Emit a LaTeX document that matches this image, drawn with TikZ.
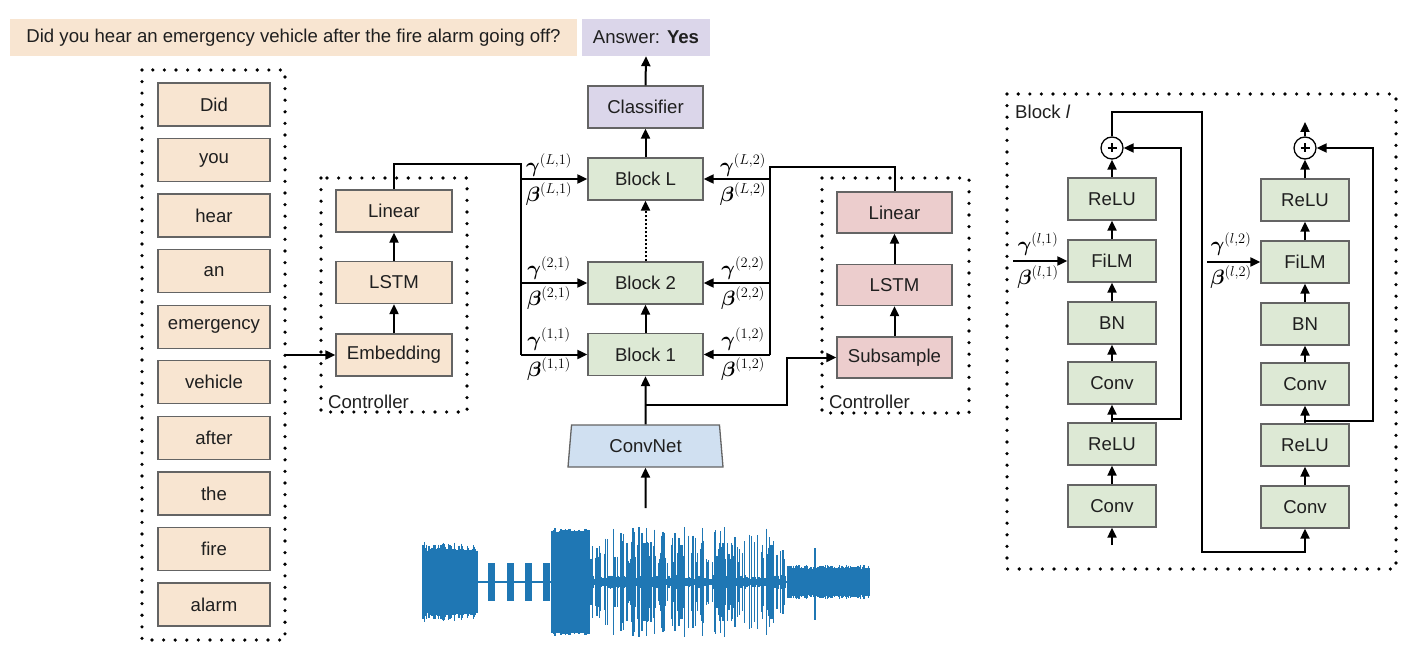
\documentclass[tikz,border=0pt]{standalone}
\usepackage{bm}
\usepackage{fontspec}
\setmainfont{Liberation Sans}
\usetikzlibrary{arrows.meta,shapes.geometric,calc}
\definecolor{tanc}{RGB}{248,229,209}
\definecolor{pinkc}{RGB}{236,205,205}
\definecolor{lavc}{RGB}{219,214,234}
\definecolor{grnc}{RGB}{221,233,213}
\definecolor{bluc}{RGB}{208,224,241}
\definecolor{wavc}{RGB}{31,119,180}
\definecolor{bordc}{RGB}{100,100,100}
\tikzset{
  txt/.style={font=\fontsize{18.6}{21}\selectfont, text=black!88},
  box/.style={txt, draw=bordc, line width=1.3pt, minimum width=116pt, minimum height=42pt, inner sep=0pt},
  wordbox/.style={box, fill=tanc, minimum width=112pt, minimum height=43pt},
  ctrlbox/.style={box, fill=tanc},
  ctrlrbox/.style={box, fill=pinkc, minimum width=115pt, minimum height=41pt},
  blkbox/.style={box, fill=grnc, minimum width=115pt},
  rbox/.style={box, fill=grnc, minimum width=88pt},
  arr/.style={line width=2pt, -{Triangle[length=10pt,width=9pt]}},
  ln/.style={line width=2pt},
  dotframe/.style={line width=3.6pt, dash pattern=on 0pt off 11.6pt, line cap=round},
  lab/.style={font=\fontsize{21.5}{23}\selectfont, inner sep=0pt},
  wave/.style={draw=wavc, line width=1.3pt},
}
\begin{document}
\begin{tikzpicture}[x=1pt,y=-1pt]
\useasboundingbox (0,0) rectangle (1412,660);

% question and answer
\node[txt, fill=tanc, minimum width=567pt, minimum height=37pt, inner sep=0pt, font=\fontsize{18.6}{20}\selectfont] (q) at (293.5,37.5) {Did you hear an emergency vehicle after the fire alarm going off?};
\node[txt, fill=lavc, minimum width=128pt, minimum height=37pt, inner sep=0pt, font=\fontsize{18.6}{20}\selectfont] (ans) at (646,37.5) {Answer: \textbf{Yes}};

% word column
\draw[dotframe] (142,70) rectangle (285,640);
\foreach \w [count=\i from 0] in {Did,you,hear,an,emergency,vehicle,after,the,fire,alarm} {
  \node[wordbox] (w\i) at (214,104.5+55.56*\i) {\w};
}
\coordinate (wout) at (285,355);

% left controller
\draw[dotframe] (321,178) rectangle (467,412);
\node[ctrlbox] (lin1) at (394,211) {Linear};
\node[ctrlbox] (lstm1) at (394,282.5) {LSTM};
\node[ctrlbox] (emb) at (394,355) {Embedding};
\node[txt, anchor=west, inner sep=0pt] (ctl1) at (328,402) {Controller};
\draw[arr] (wout) -- (emb.west);
\draw[arr] (emb.north) -- (lstm1.south);
\draw[arr] (lstm1.north) -- (lin1.south);

% right controller
\draw[dotframe] (822,178) rectangle (969,413);
\node[ctrlrbox] (lin2) at (894.5,212.5) {Linear};
\node[ctrlrbox] (lstm2) at (894.5,285) {LSTM};
\node[ctrlrbox] (sub) at (894.5,357.5) {Subsample};
\node[txt, anchor=west, inner sep=0pt] (ctl2) at (829,402) {Controller};
\draw[arr] (sub.north) -- (lstm2.south);
\draw[arr] (lstm2.north) -- (lin2.south);

% central stack
\node[box, fill=lavc, minimum width=115pt] (cls) at (645.5,107) {Classifier};
\node[blkbox] (bL) at (645.5,179) {Block L};
\node[blkbox] (b2) at (645.5,283) {Block 2};
\node[blkbox] (b1) at (645.5,354.5) {Block 1};
\node[txt, trapezium, draw=bordc, fill=bluc, line width=1.3pt, trapezium angle=75, trapezium stretches body, minimum width=155pt, minimum height=42pt, inner sep=0pt] (cn) at (645.5,446) {ConvNet};
\draw[arr] (cls.north) -- (ans.south);
\draw[arr] (bL.north) -- (cls.south);
\draw[line width=2pt, dotted, -{Triangle[length=10pt,width=9pt]}] (b2.north) -- (bL.south);
\draw[arr] (b1.north) -- (b2.south);
\draw[arr] (cn.north) -- (b1.south);
\coordinate (br) at (645.5,405);
\draw[arr] (br) -- (787,405) -- (787,357.5) -- (sub.west);
\coordinate (wtop) at (645.5,508);
\draw[arr] (wtop) -- (cn.south);

% left bus
\coordinate (lbus) at (521,164);
\draw[ln] (lin1.north) -- (394,164) -- (lbus) -- (lbus |- b1.west);
\draw[arr] (lbus |- bL.west) -- (bL.west);
\draw[arr] (lbus |- b2.west) -- (b2.west);
\draw[arr] (lbus |- b1.west) -- (b1.west);
% right bus
\coordinate (rbus) at (770,167);
\draw[ln] (lin2.north) -- (894.5,167) -- (rbus) -- (rbus |- b1.east);
\draw[arr] (rbus |- bL.east) -- (bL.east);
\draw[arr] (rbus |- b2.east) -- (b2.east);
\draw[arr] (rbus |- b1.east) -- (b1.east);

% gamma / beta labels
\node[lab] (gL1) at (549,165) {$\bm{\gamma}^{(L,1)}$};
\node[lab] (bL1) at (549,194) {$\bm{\beta}^{(L,1)}$};
\node[lab] (g21) at (549,268) {$\bm{\gamma}^{(2,1)}$};
\node[lab] (b21) at (549,298) {$\bm{\beta}^{(2,1)}$};
\node[lab] (g11) at (549,339) {$\bm{\gamma}^{(1,1)}$};
\node[lab] (b11) at (549,369) {$\bm{\beta}^{(1,1)}$};
\node[lab] (gL2) at (743,165) {$\bm{\gamma}^{(L,2)}$};
\node[lab] (bL2) at (743,194) {$\bm{\beta}^{(L,2)}$};
\node[lab] (g22) at (743,268) {$\bm{\gamma}^{(2,2)}$};
\node[lab] (b22) at (743,298) {$\bm{\beta}^{(2,2)}$};
\node[lab] (g12) at (743,339) {$\bm{\gamma}^{(1,2)}$};
\node[lab] (b12) at (743,369) {$\bm{\beta}^{(1,2)}$};

% waveform
\pgfmathsetseed{11}
\draw[wave, line width=2.5pt] (422,582) -- (870,582);
\foreach \x in {423,424.2,...,478} {
  \pgfmathsetmacro\a{31+9*rnd}
  \draw[wave] (\x,582-\a) -- (\x,582+\a);
}
\foreach \s in {488,507,525,543} {
  \fill[wavc] (\s,563) rectangle (\s+7,601);
}
\fill[wavc] (552,532) rectangle (590,633);
\foreach \x in {552,553.5,...,590} {
  \pgfmathsetmacro\a{50+4*rnd}
  \draw[wave] (\x,582-\a) -- (\x,582+\a);
}
\foreach \x in {591,592.2,...,786} {
  \pgfmathsetmacro\a{(rnd<0.3) ? (3+4*rnd) : (18+37*rnd)}
  \draw[wave, line width=1.2pt] (\x,582-\a) -- (\x,582+\a);
}
\foreach \x in {788,789.1,...,870} {
  \pgfmathsetmacro\a{13+4*rnd}
  \draw[wave] (\x,582-\a) -- (\x,582+\a);
}
\draw[wave] (815,548) -- (815,620);

% Block l panel
\draw[dotframe] (1007,94) rectangle (1396,569);
\node[txt, anchor=west, inner sep=0pt] (blab) at (1015,112) {Block \textit{l}};
% column 1
\node[rbox] (r1t) at (1112,199) {ReLU};
\node[rbox] (f1) at (1112,261) {FiLM};
\node[rbox] (bn1) at (1112,323) {BN};
\node[rbox] (c1t) at (1112,383) {Conv};
\node[rbox] (r1b) at (1112,444) {ReLU};
\node[rbox] (c1b) at (1112,506) {Conv};
\node[circle, draw=black, line width=1.3pt, fill=white, minimum size=22pt, inner sep=0pt] (p1) at (1112,148) {};
\draw[line width=2.2pt] ($(p1)+(-4.5,0)$) -- ($(p1)+(4.5,0)$) ($(p1)+(0,-4.5)$) -- ($(p1)+(0,4.5)$);
\coordinate (in1) at (1112,545);
\draw[arr] (in1) -- (c1b.south);
\draw[arr] (c1b.north) -- (r1b.south);
\draw[arr] (r1b.north) -- (c1t.south);
\draw[arr] (c1t.north) -- (bn1.south);
\draw[arr] (bn1.north) -- (f1.south);
\draw[arr] (f1.north) -- (r1t.south);
\draw[arr] (r1t.north) -- (p1.south);
\draw[arr] (1112,419) -- (1181,419) -- (1181,148) -- (p1.east);
% column 2
\node[rbox] (r2t) at (1305,200) {ReLU};
\node[rbox] (f2) at (1305,262) {FiLM};
\node[rbox] (bn2) at (1305,324) {BN};
\node[rbox] (c2t) at (1305,384) {Conv};
\node[rbox] (r2b) at (1305,445) {ReLU};
\node[rbox] (c2b) at (1305,507) {Conv};
\node[circle, draw=black, line width=1.3pt, fill=white, minimum size=22pt, inner sep=0pt] (p2) at (1305,148) {};
\draw[line width=2.2pt] ($(p2)+(-4.5,0)$) -- ($(p2)+(4.5,0)$) ($(p2)+(0,-4.5)$) -- ($(p2)+(0,4.5)$);
\draw[arr] (p1.north) -- (1112,112) -- (1202,112) -- (1202,552) -- (1305,552) -- (c2b.south);
\draw[arr] (c2b.north) -- (r2b.south);
\draw[arr] (r2b.north) -- (c2t.south);
\draw[arr] (c2t.north) -- (bn2.south);
\draw[arr] (bn2.north) -- (f2.south);
\draw[arr] (f2.north) -- (r2t.south);
\draw[arr] (r2t.north) -- (p2.south);
\draw[arr] (1305,421) -- (1373,421) -- (1373,148) -- (p2.east);
\coordinate (out2) at (1305,122);
\draw[arr] (p2.north) -- (out2);
% FiLM inputs
\coordinate (fin1) at (1013,261);
\coordinate (fin2) at (1207,262);
\draw[arr] (fin1) -- (f1.west);
\draw[arr] (fin2) -- (f2.west);
\node[lab] (gl1) at (1038,244) {$\bm{\gamma}^{(l,1)}$};
\node[lab] (bl1) at (1038,277) {$\bm{\beta}^{(l,1)}$};
\node[lab] (gl2) at (1231,244) {$\bm{\gamma}^{(l,2)}$};
\node[lab] (bl2) at (1231,277) {$\bm{\beta}^{(l,2)}$};
\end{tikzpicture}
\end{document}
